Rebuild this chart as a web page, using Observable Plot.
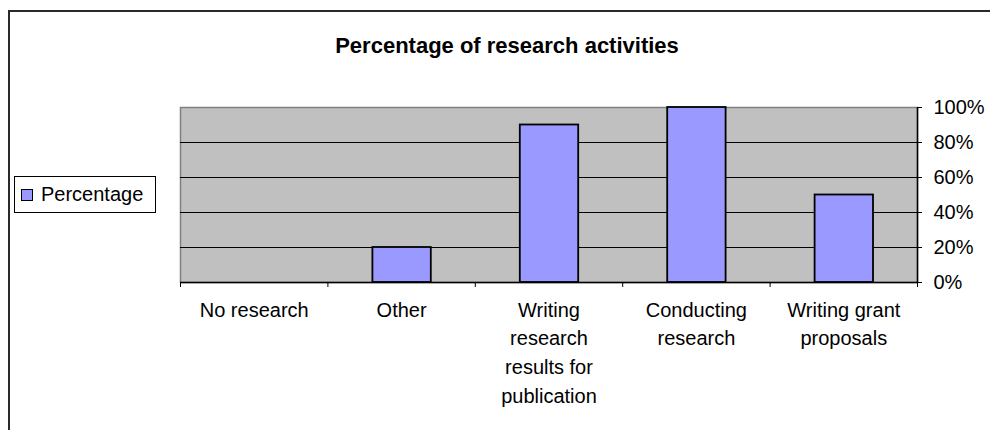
<!DOCTYPE html>
<html>
<head>
<meta charset="utf-8">
<script src="https://cdn.jsdelivr.net/npm/d3@7"></script>
<script src="https://cdn.jsdelivr.net/npm/@observablehq/plot@0.6"></script>
<style>
  html, body { margin: 0; padding: 0; background: #fff; overflow: hidden; }
  #chart { position: relative; width: 990px; height: 430px; font-family: "Liberation Sans", Arial, sans-serif; color: #000; }
  #chart svg { position: absolute; left: 0; top: 0; }
  #border { position: absolute; left: 8px; top: 10px; width: 1100px; height: 500px; border: 2px solid #2a2a2a; box-sizing: border-box; }
  #title { position: absolute; left: 0; top: 35px; width: 1014px; text-align: center; font-size: 22px; font-weight: bold; line-height: 1; }
  #legend { position: absolute; left: 14px; top: 176px; width: 142px; height: 37px; border: 1px solid #000; box-sizing: border-box; background: #fff; }
  #legend .swatch { position: absolute; left: 6px; top: 12px; width: 12px; height: 12px; background: #9999FF; border: 1.5px solid #000; box-sizing: border-box; }
  #legend .label { position: absolute; left: 26px; top: 7px; font-size: 20px; line-height: 1; white-space: nowrap; }
</style>
</head>
<body>
<div id="chart">
  <div id="border"></div>
  <div id="title">Percentage of research activities</div>
</div>
<script>
// Research activity categories (tick labels wrap onto several lines)
const categories = [
  "No research",
  "Other",
  "Writing research results for publication",
  "Conducting research",
  "Writing grant proposals"
];
const categoryLabels = [
  "No research",
  "Other",
  "Writing\nresearch\nresults for\npublication",
  "Conducting\nresearch",
  "Writing grant\nproposals"
];
// Share of respondents doing each activity
const percentages = [0, 0.20, 0.90, 1.00, 0.50];
// Right-hand axis ticks
const yTicks = [0, 0.2, 0.4, 0.6, 0.8, 1.0];
const seriesName = "Percentage";

const rows = categories.map((name, i) => ({name, i, value: percentages[i]}));
const n = categories.length;
const centers = d3.range(n).map(i => i + 0.5);
const bounds = d3.range(n + 1);

const plot = Plot.plot({
  width: 990,
  height: 430,
  marginLeft: 180,
  marginRight: 73,
  marginTop: 107,
  marginBottom: 148,
  style: {
    fontSize: "20px",
    fontFamily: "'Liberation Sans', Arial, sans-serif",
    color: "#000",
    background: "transparent",
    overflow: "visible"
  },
  x: {type: "linear", domain: [0, n], label: null},
  y: {domain: [0, 1], label: null},
  marks: [
    Plot.frame({fill: "#C0C0C0", stroke: "#808080", strokeWidth: 1.5}),
    Plot.ruleY(yTicks.filter(t => t > 0 && t < 1), {stroke: "#000", strokeWidth: 1}),
    Plot.rectY(rows, {
      x: "i", interval: 1, y: "value",
      insetLeft: 45, insetRight: 44,
      fill: "#9999FF", stroke: "#000", strokeWidth: 1.8
    }),
    Plot.ruleX([n], {stroke: "#000", strokeWidth: 1.5}),
    Plot.ruleY([0], {stroke: "#000", strokeWidth: 1.5}),
    Plot.axisY({
      anchor: "right", ticks: yTicks, tickFormat: d3.format(".0%"),
      tickSize: 4, tickPadding: 12, label: null
    }),
    Plot.axisX({ticks: bounds, tickFormat: () => "", tickSize: 5, label: null}),
    Plot.axisX({
      ticks: centers, tickFormat: t => categoryLabels[Math.floor(t)],
      tickSize: 0, tickPadding: 14, lineHeight: 1.43, label: null
    })
  ]
});

const chart = document.getElementById("chart");
chart.insertBefore(plot, document.getElementById("title"));

const legend = document.createElement("div");
legend.id = "legend";
legend.innerHTML = `<div class="swatch"></div><div class="label">${seriesName}</div>`;
chart.appendChild(legend);
</script>
</body>
</html>
